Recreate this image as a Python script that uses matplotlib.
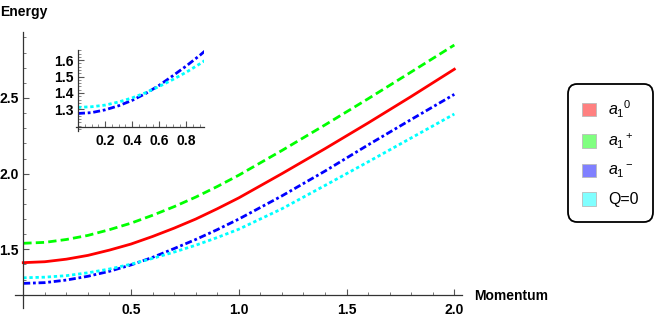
import matplotlib
matplotlib.use("Agg")
import matplotlib.pyplot as plt
from matplotlib.patches import Patch
from matplotlib.ticker import MultipleLocator

plt.rcParams['font.family'] = ['Liberation Sans', 'DejaVu Sans']
plt.rcParams['mathtext.fontset'] = 'custom'
plt.rcParams['mathtext.rm'] = 'Liberation Sans'
plt.rcParams['mathtext.it'] = 'Liberation Sans:italic'
plt.rcParams['lines.scale_dashes'] = False

# ---- data ----
momentum = [0.0, 0.1, 0.2, 0.3, 0.4, 0.5, 0.6, 0.7, 0.8, 0.9, 1.0, 1.2, 1.4, 1.6, 1.8, 2.0]
e_a10 = [1.412, 1.418, 1.435, 1.460, 1.495, 1.535, 1.585, 1.640, 1.700, 1.768, 1.840, 2.000, 2.165, 2.335, 2.510, 2.690]
e_a1p = [1.540, 1.546, 1.565, 1.592, 1.630, 1.673, 1.725, 1.782, 1.845, 1.915, 1.990, 2.153, 2.322, 2.495, 2.672, 2.850]
e_a1m = [1.275, 1.280, 1.297, 1.322, 1.355, 1.397, 1.447, 1.505, 1.565, 1.630, 1.700, 1.853, 2.017, 2.190, 2.358, 2.524]
e_q0 = [1.312, 1.316, 1.326, 1.345, 1.370, 1.402, 1.440, 1.482, 1.527, 1.578, 1.633, 1.768, 1.922, 2.078, 2.236, 2.394]
labels = [r'$a_1{}^0$', r'$a_1{}^+$', r'$a_1{}^-$', 'Q=0']
x_ticks = [0.5, 1.0, 1.5, 2.0]
y_ticks = [1.5, 2.0, 2.5]
inset_x_ticks = [0.2, 0.4, 0.6, 0.8]
inset_y_ticks = [1.3, 1.4, 1.5, 1.6]

line_colors = ['#ff0000', '#00ff00', '#0000ff', '#00ffff']
patch_colors = ['#ff8080', '#80ff80', '#8080ff', '#80ffff']
styles = [
    dict(linestyle='-'),
    dict(linestyle=(0, (6.0, 3.0))),
    dict(linestyle=(0, (5.0, 2.0, 2.0, 2.0))),
    dict(linestyle=(0, (2.4, 2.0))),
]
series = [e_a10, e_a1p, e_a1m, e_q0]

W, H = 664, 318
fig = plt.figure(figsize=(W / 100, H / 100), dpi=100)

def px_axes(l, r, t, b):
    return [l / W, (H - b) / H, (r - l) / W, (b - t) / H]

# ---- main axes ----
ax = fig.add_axes(px_axes(15.3, 462.3, 32.0, 307.9))
for ys, c, st in zip(series, line_colors, styles):
    ax.plot(momentum, ys, color=c, lw=2.0, dash_capstyle='butt', **st)
ax.set_xlim(-0.037, 2.037)
ax.set_ylim(1.113, 2.936)
for s in ['top', 'right']:
    ax.spines[s].set_visible(False)
ax.spines['left'].set_position(('data', 0.0))
ax.spines['bottom'].set_position(('data', 1.2))
for s in ['left', 'bottom']:
    ax.spines[s].set_color('#333333')
    ax.spines[s].set_linewidth(0.9)
ax.set_xticks(x_ticks)
ax.set_yticks(y_ticks)
ax.set_xticklabels([f'{v:.1f}' for v in x_ticks])
ax.set_yticklabels([f'{v:.1f}' for v in y_ticks])
ax.xaxis.set_minor_locator(MultipleLocator(0.1))
ax.yaxis.set_minor_locator(MultipleLocator(0.1))
ax.tick_params(which='major', direction='in', length=4.5, width=0.8, color='#555555',
               labelsize=10, pad=6)
ax.tick_params(axis='y', which='major', pad=3)
ax.tick_params(which='minor', direction='in', length=2.5, width=0.7, color='#777777')
for lab in ax.get_xticklabels() + ax.get_yticklabels():
    lab.set_fontweight('bold')
ax.patch.set_alpha(0)

fig.text(0 / W, 1 - 12 / H, 'Energy', fontsize=10, fontweight='bold', ha='left', va='center')
fig.text(474 / W, 1 - 296 / H, 'Momentum', fontsize=10, fontweight='bold', ha='left', va='center')

# ---- inset ----
ix = fig.add_axes(px_axes(76, 204, 50, 131))
for ys, c, st in zip(series[2:], line_colors[2:], styles[2:]):
    ix.plot(momentum, ys, color=c, lw=2.0, dash_capstyle='butt', **st)
ix.set_xlim(-0.015, 0.93)
ix.set_ylim(1.168, 1.662)
for s in ['top', 'right']:
    ix.spines[s].set_visible(False)
ix.spines['left'].set_position(('data', 0.0))
ix.spines['bottom'].set_position(('data', 1.194))
for s in ['left', 'bottom']:
    ix.spines[s].set_color('#333333')
    ix.spines[s].set_linewidth(0.9)
ix.set_xticks(inset_x_ticks)
ix.set_yticks(inset_y_ticks)
ix.set_xticklabels([f'{v:.1f}' for v in inset_x_ticks])
ix.set_yticklabels([f'{v:.1f}' for v in inset_y_ticks])
ix.xaxis.set_minor_locator(MultipleLocator(0.05))
ix.yaxis.set_minor_locator(MultipleLocator(0.02))
ix.tick_params(which='major', direction='in', length=4, width=0.8, color='#555555',
               labelsize=10, pad=5.5)
ix.tick_params(axis='y', which='major', pad=3)
ix.tick_params(which='minor', direction='in', length=2.2, width=0.6, color='#777777')
for lab in ix.get_xticklabels() + ix.get_yticklabels():
    lab.set_fontweight('bold')
ix.patch.set_alpha(0)

# ---- legend ----
handles = [Patch(facecolor=pc, edgecolor='#bbbbbb', linewidth=0.6) for pc in patch_colors]
leg = fig.legend(handles, labels, loc='center', bbox_to_anchor=(610.5 / W, 1 - 153 / H),
                 fontsize=11.5, frameon=True, fancybox=True, handlelength=0.9, handleheight=0.9,
                 handletextpad=0.75, labelspacing=0.75, borderpad=0.9)
fr = leg.get_frame()
fr.set_edgecolor('black')
fr.set_linewidth(1.3)
fr.set_boxstyle('round,pad=0.0,rounding_size=0.6')
fr.set_alpha(1)

fig.savefig('out.png', dpi=100)
